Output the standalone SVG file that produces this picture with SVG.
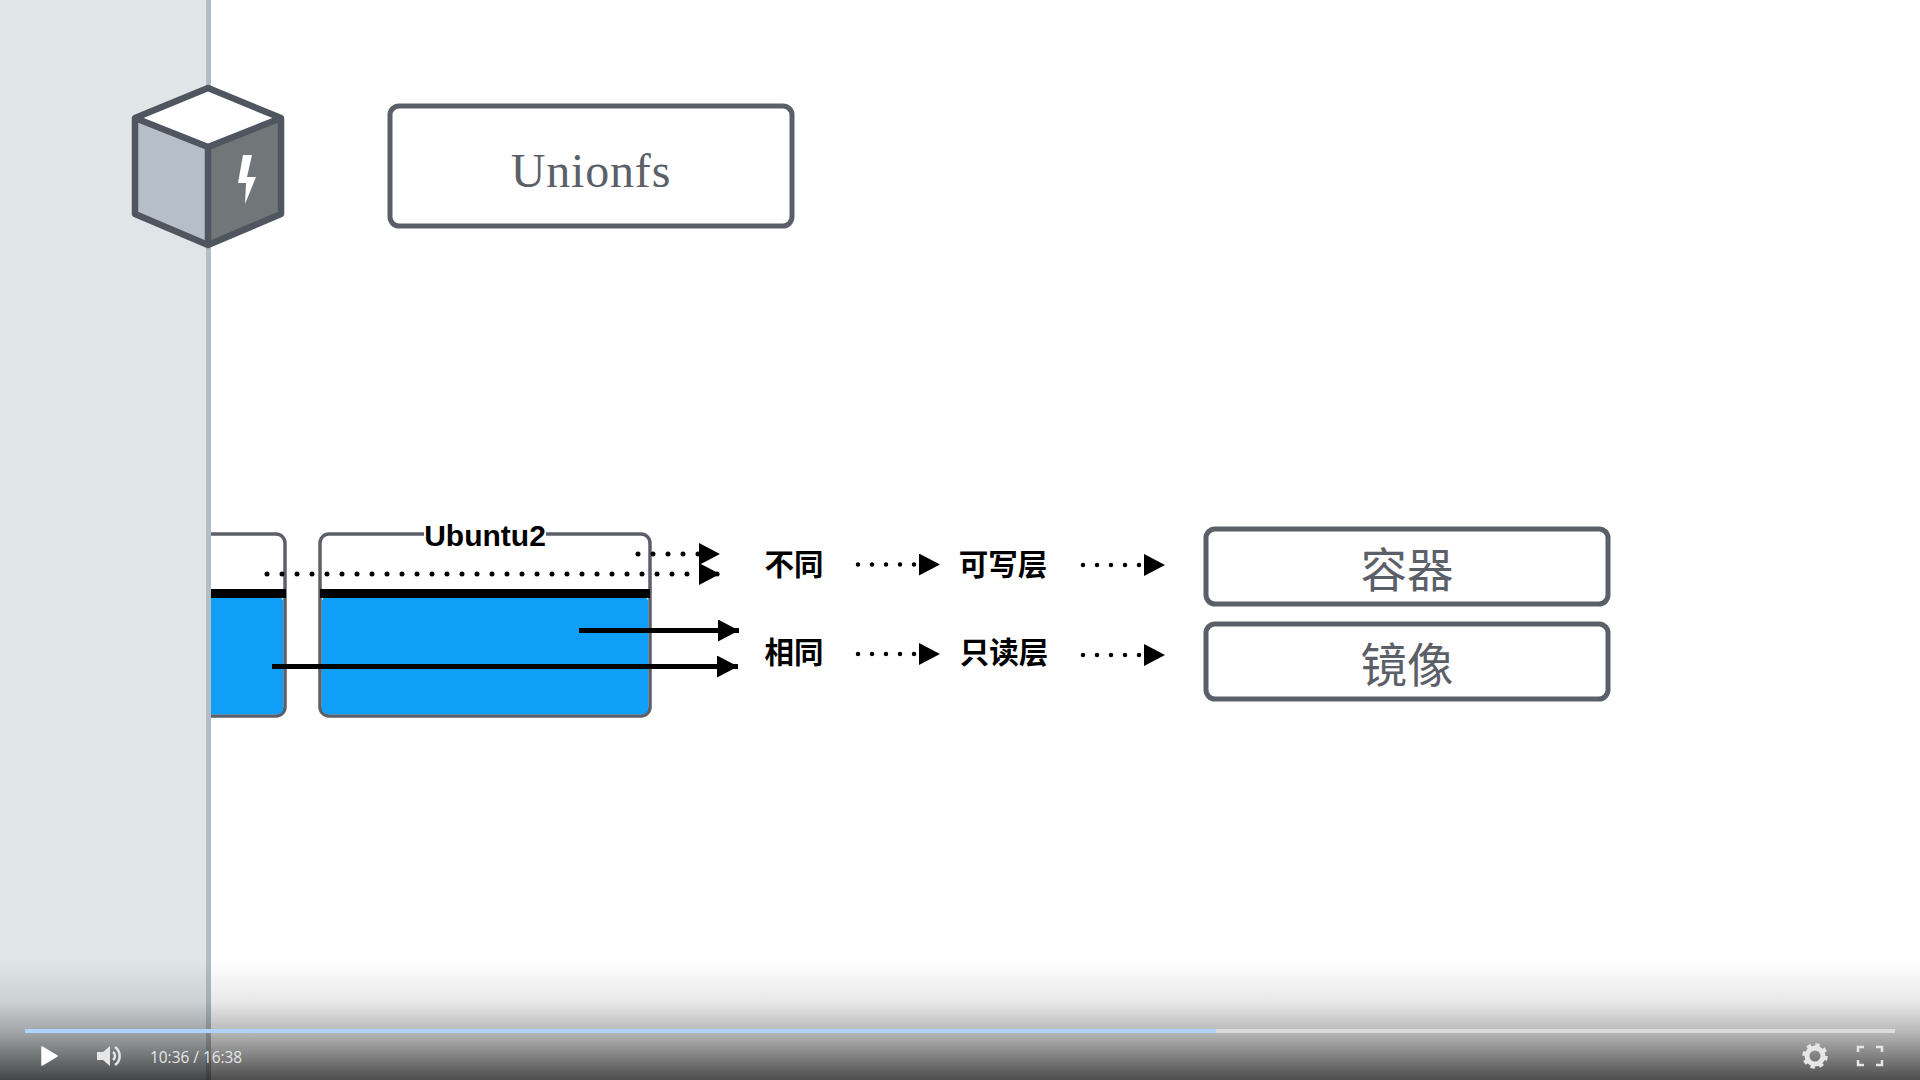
<svg xmlns="http://www.w3.org/2000/svg" width="1920" height="1080" viewBox="0 0 1920 1080">
<style>
.box{fill:#fff;stroke:#5b6068;stroke-width:5}
.thin{fill:#fff;stroke:#5b6068;stroke-width:3.500}
.cjk{font-family:"Noto Sans CJK SC",sans-serif;text-anchor:middle}
.lab{font-size:29.500px;font-weight:700;fill:#000}
.big{font-size:46.500px;fill:#5b6068}
.dot{fill:none;stroke:#000;stroke-width:5;stroke-linecap:round;stroke-dasharray:0 15}
.dots{fill:none;stroke:#000;stroke-width:4.500;stroke-linecap:round;stroke-dasharray:0 14}
.sol{fill:none;stroke:#000;stroke-width:5}
.ctl{fill:#e6e6e6}
</style>
<defs>
<marker id="ah" markerUnits="userSpaceOnUse" markerWidth="21" markerHeight="22" refX="21" refY="11" orient="auto"><path d="M0 0L21 11L0 22Z" fill="#000"/></marker>
<linearGradient id="ov" x1="0" y1="0" x2="0" y2="1"><stop offset="0" stop-color="#000" stop-opacity="0"/><stop offset=".35" stop-color="#000" stop-opacity=".09"/><stop offset=".6" stop-color="#000" stop-opacity=".28"/><stop offset="1" stop-color="#000" stop-opacity=".7"/></linearGradient>
</defs>
<rect width="1920" height="1080" fill="#fff"/>
<g id="left-box">
<rect x="150" y="534" width="135" height="182" rx="9" class="thin"/>
<rect x="150" y="596" width="133.200" height="118.200" rx="6" fill="#0f9ff9"/>
<rect x="150" y="589" width="136" height="9" fill="#000"/>
</g>
<g id="sidebar">
<rect x="0" y="0" width="206" height="1080" fill="#e0e5e8"/>
<rect x="206" y="0" width="5" height="1080" fill="#b2bdc5"/>
</g>
<g id="cube">
<path d="M208 147L135 116V214L208 245Z" fill="#b6bfc8"/>
<path d="M208 147L281 116V214L208 245Z" fill="#717679"/>
<path d="M208 88L281 118L208 147L135 118Z" fill="#fff"/>
<path d="M208 88L281 118V214L208 245L135 214V118ZM135 118L208 147L281 118M208 147V245" fill="none" stroke="#505660" stroke-width="6.500" stroke-linejoin="round"/>
<path d="M243 155L252 155L247 177L256 177L245 204L246 183L238 183Z" fill="#fff"/>
</g>
<g id="unionfs">
<rect x="390" y="106" width="402" height="120" rx="9" class="box"/>
<text x="591" y="187" text-anchor="middle" font-family="Liberation Serif,serif" font-size="48" letter-spacing="0.800" fill="#5b6068">Unionfs</text>
</g>
<g id="ubuntu2">
<rect x="320" y="534" width="330" height="182" rx="9" class="thin"/>
<rect x="321.800" y="596" width="326.400" height="118.200" rx="6" fill="#0f9ff9"/>
<rect x="320" y="589" width="330" height="9" fill="#000"/>
<rect x="424" y="528" width="122" height="12" fill="#fff"/>
<text x="485" y="546" text-anchor="middle" font-family="Liberation Sans,sans-serif" font-size="30" font-weight="700" fill="#000">Ubuntu2</text>
</g>
<g id="connectors">
<path d="M638 554H720" class="dot" marker-end="url(#ah)"/>
<path d="M267 574H720" class="dot" marker-end="url(#ah)"/>
<path d="M579 630.500H739" class="sol" marker-end="url(#ah)"/>
<path d="M272 666.500H738" class="sol" marker-end="url(#ah)"/>
<path d="M858 564.500H940" class="dots" marker-end="url(#ah)"/>
<path d="M1083 565H1165" class="dots" marker-end="url(#ah)"/>
<path d="M858 654H940" class="dots" marker-end="url(#ah)"/>
<path d="M1083 655H1165" class="dots" marker-end="url(#ah)"/>
</g>
<g id="n-butong"><text x="794" y="575" class="cjk lab">不同</text></g>
<g id="n-xiangtong"><text x="794" y="663" class="cjk lab">相同</text></g>
<g id="n-kexie"><text x="1003" y="575" class="cjk lab">可写层</text></g>
<g id="n-zhidu"><text x="1004" y="663" class="cjk lab">只读层</text></g>
<g id="n-rongqi">
<rect x="1206" y="529" width="402" height="75" rx="9" class="box"/>
<text x="1407" y="587" class="cjk big">容器</text>
</g>
<g id="n-jingxiang">
<rect x="1206" y="624" width="402" height="75" rx="9" class="box"/>
<text x="1407" y="682" class="cjk big">镜像</text>
</g>
<g id="player">
<rect x="0" y="960" width="1920" height="120" fill="url(#ov)"/>
<rect x="25" y="1029" width="1870" height="4" fill="#dcdcdc"/>
<rect x="25" y="1029" width="1191" height="4" fill="#aed4fb"/>
<path d="M42 1047L57 1056L42 1065Z" fill="#fff" stroke="#fff" stroke-width="1.500" stroke-linejoin="round"/>
<path d="M97 1052H103L110 1046V1066L103 1060H97Z" class="ctl"/>
<path d="M113 1052a5 5 0 0 1 0 8M115 1047a11 11 0 0 1 0 18" fill="none" stroke="#e6e6e6" stroke-width="2.500"/>
<text x="150" y="1063" font-family="Open Sans,sans-serif" font-size="15.400" fill="#e6e6e6">10:36 / 16:38</text>
<circle cx="1815" cy="1056" r="8" fill="none" stroke="#e6e6e6" stroke-width="5"/>
<circle cx="1815" cy="1056" r="11" fill="none" stroke="#e6e6e6" stroke-width="3.500" stroke-dasharray="4.300 4.340"/>
<path d="M1858 1052V1047H1864M1876 1047H1882V1052M1882 1060V1065H1876M1864 1065H1858V1060" fill="none" stroke="#e6e6e6" stroke-width="2.500"/>
</g>
</svg>
